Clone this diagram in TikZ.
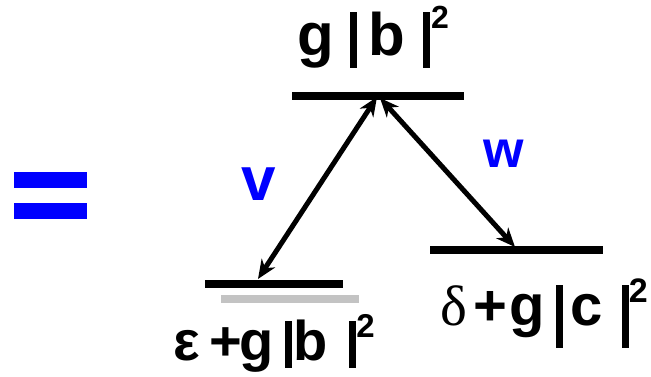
\documentclass[tikz,border=0pt]{standalone}
\usepackage{fontspec}
\setmainfont{Liberation Sans}
\newfontfamily\greekserif{Liberation Serif}
\usepackage{xcolor}
\usetikzlibrary{
	arrows.meta,
	calc,
	positioning
}
\definecolor{eqblue}{RGB}{0,0,255}
\definecolor{shadow}{RGB}{195,195,195}
\newcommand{\sqr}[2]{\raisebox{#1pt}{\fontsize{#2}{#2}\selectfont 2}}
\newcommand{\absbar}[2]{\rule[-#1pt]{7pt}{#2pt}}

\begin{document}
\begin{tikzpicture}[x=1pt, y=-1pt,
	level/.style={line width=8pt},
	trans/.style={line width=5pt,
		{Stealth[length=19pt,width=16pt,inset=6pt]}-{Stealth[length=19pt,width=16pt,inset=6pt]}},
	energy/.style={inner sep=0pt, anchor=base west},
	coupling/.style={inner sep=0pt, text=eqblue}
]
	\useasboundingbox (0,0) rectangle (651,376);
	% equals sign
	\fill[eqblue] (14,172) rectangle (87,188);
	\fill[eqblue] (14,203) rectangle (87,219);
	% levels
	\coordinate (B1) at (292,95.5);
	\coordinate (B2) at (464,95.5);
	\coordinate (A1) at (205,283.5);
	\coordinate (A2) at (343,283.5);
	\coordinate (C1) at (430,249.5);
	\coordinate (C2) at (603,249.5);
	\draw[level, shadow] (221,299) -- (359,299);
	\draw[level] (B1) -- (B2);
	\draw[level] (A1) -- (A2);
	\draw[level] (C1) -- (C2);
	% transitions
	\coordinate (Bv) at (377,97);
	\coordinate (Bw) at (380,98);
	\coordinate (Av) at (258,279);
	\coordinate (Cw) at (515,247);
	\draw[trans] (Bv) -- (Av);
	\draw[trans] (Bw) -- (Cw);
	% labels
	\node[energy, font=\bfseries\fontsize{60}{60}\selectfont] (topE) at (297.6,55.5)
		{g\hspace{15.7pt}\absbar{12.5}{56}\hspace{11pt}b\hspace{18.3pt}\absbar{12.5}{56}\hspace{1pt}\sqr{27.5}{32}};
	\node[energy, font=\bfseries\fontsize{56}{56}\selectfont] (leftE) at (173.6,360)
		{ε\hspace{9pt}+\hspace{-2.7pt}g\hspace{11.8pt}\absbar{8}{47}\hspace{1.3pt}b\hspace{21.5pt}\absbar{8}{47}\sqr{23}{33}};
	\node[energy, font=\bfseries\fontsize{58}{58}\selectfont] (rightE) at (440,325.5)
		{{\greekserif\mdseries\fontsize{57}{57}\selectfont δ}\hspace{6.8pt}+\hspace{2pt}g\hspace{11pt}\absbar{22}{63}\hspace{7pt}c\hspace{19.4pt}\absbar{22}{63}\sqr{23.5}{34}};
	\node[coupling, font=\bfseries\fontsize{62}{62}\selectfont] (v) at (259,184) {v};
	\node[coupling, font=\bfseries\fontsize{52}{52}\selectfont] (w) at (504,154) {w};
\end{tikzpicture}
\end{document}
